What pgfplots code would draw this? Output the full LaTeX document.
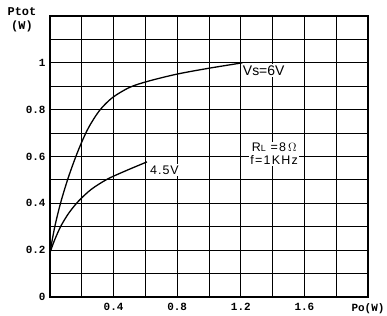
\documentclass[border=0pt]{standalone}
\usepackage{pgfplots}
\pgfplotsset{compat=1.18}
\usepackage{fontspec}
\setmainfont{Liberation Sans}
\setmonofont{Liberation Mono}
\begin{document}
\begin{tikzpicture}
\begin{axis}[
  at={(0,0)}, anchor=south west,
  scale only axis, width=318bp, height=281bp,
  xmin=0, xmax=2.0, ymin=0, ymax=1.2,
  xtick={0,0.2,0.4,0.6,0.8,1.0,1.2,1.4,1.6,1.8,2.0},
  xticklabels={,,0.4,,0.8,,1.2,,1.6,,Po(W)},
  ytick={0,0.1,0.2,0.3,0.4,0.5,0.6,0.7,0.8,0.9,1.0,1.1,1.2},
  yticklabels={0,,0.2,,0.4,,0.6,,0.8,,1,,},
  major tick length=0pt,
  grid=major,
  major grid style={black, line width=1.0pt},
  axis line style={black, line width=1.6pt},
  /pgf/number format/assume math mode=true,
  ticklabel style={font=\fontsize{11}{12}\selectfont\ttfamily\bfseries},
  xticklabel style={yshift=-3bp},
  yticklabel style={xshift=-1bp},
  clip=false,
]
\addplot[black, line width=1.3pt, smooth] coordinates {
 (0,0.19) (0.03,0.30) (0.07,0.41) (0.12,0.52) (0.18,0.63) (0.24,0.72)
 (0.31,0.795) (0.39,0.85) (0.50,0.895) (0.62,0.922) (0.80,0.952)
 (1.0,0.977) (1.21,1.0)};
\addplot[black, line width=1.3pt, smooth] coordinates {
 (0,0.19) (0.03,0.245) (0.07,0.305) (0.12,0.36) (0.18,0.41) (0.26,0.46)
 (0.36,0.503) (0.48,0.54) (0.61,0.577)};
\node[fill=white, inner sep=1.5pt, font=\fontsize{14}{15}\selectfont] at (axis cs:1.344,0.968) {Vs=6V};
\node[fill=white, inner sep=1.5pt, font=\fontsize{12.5}{14}\selectfont\addfontfeature{LetterSpace=8}] at (axis cs:0.72,0.543) {4.5V};
\node[fill=white, inner sep=1.5pt, align=center, font=\fontsize{12.5}{12.5}\selectfont\addfontfeature{LetterSpace=10}] at (axis cs:1.41,0.612) {R{\fontsize{9}{9}\selectfont L} =8\,$\Omega$\\f=1KHz};
\end{axis}
\node[align=center, font=\fontsize{12}{14}\selectfont\ttfamily\bfseries] at (-28bp,277bp) {Ptot\\(W)};
\pgfresetboundingbox
\path[use as bounding box] (-50bp,-19bp) rectangle (337bp,297bp);
\end{tikzpicture}
\end{document}
